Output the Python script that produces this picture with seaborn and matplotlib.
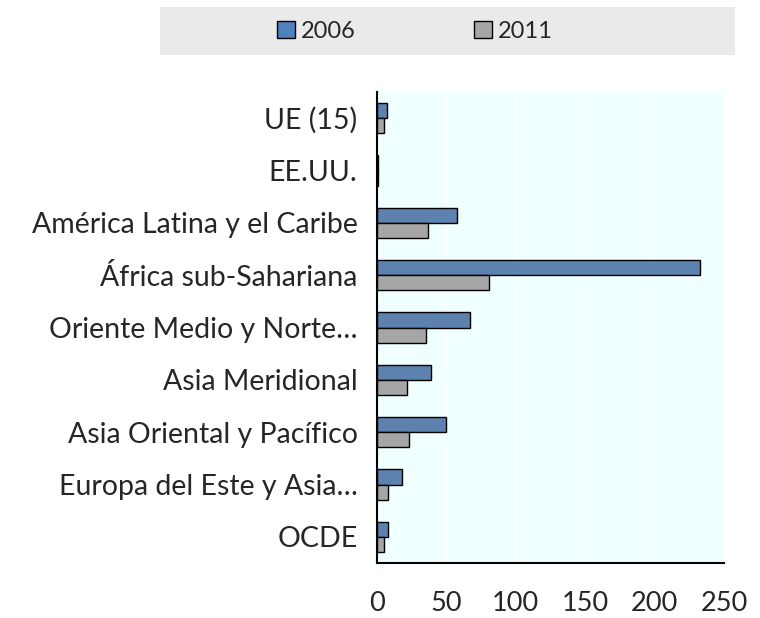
import numpy as np
import pandas as pd
import seaborn as sns
import matplotlib.pyplot as plt
from matplotlib.patches import Rectangle

regions = ['UE (15)', 'EE.UU.', 'América Latina y el Caribe', 'África sub-Sahariana',
           'Oriente Medio y Norte…', 'Asia Meridional', 'Asia Oriental y Pacífico',
           'Europa del Este y Asia…', 'OCDE']
vals_2006 = [7, 1, 58, 233, 67, 39, 50, 18, 8]
vals_2011 = [5, 1, 37, 81, 35, 22, 23, 8, 5]
years = ['2006', '2011']
colors = ['#4F81BD', '#A6A6A6']

df = pd.DataFrame({
    'region': regions * 2,
    'year': [years[0]] * len(regions) + [years[1]] * len(regions),
    'value': vals_2006 + vals_2011,
})

sns.set_style('white')
plt.rcParams['font.family'] = ['Lato', 'DejaVu Sans']

fig = plt.figure(figsize=(7.6, 6.18), dpi=100)
ax = fig.add_axes([0.496, 0.089, 0.4565, 0.762])
ax.set_facecolor('#F0FFFF')

sns.barplot(data=df, y='region', x='value', hue='year', orient='h',
            palette=colors, edgecolor='black', linewidth=1, width=0.58,
            order=regions, hue_order=years, ax=ax, legend=False)

ax.set_xlim(0, 250)
ax.set_ylim(len(regions) - 0.5, -0.5)
ax.set_xticks([0, 50, 100, 150, 200, 250])
ax.set_yticks(np.arange(len(regions)))
ax.set_yticks(np.arange(len(regions)) - 0.5, minor=True)
ax.tick_params(axis='y', which='major', length=0, labelsize=20.5, pad=14)
ax.tick_params(axis='y', which='minor', length=7, width=1.5, direction='in', color='black')
ax.tick_params(axis='x', which='major', length=7, width=1.5, direction='in',
               labelsize=19.5, pad=20, color='black')
ax.set_xlabel('')
ax.set_ylabel('')
ax.grid(axis='x', color='white', linewidth=0.8)
ax.set_axisbelow(True)
for s in ['top', 'right']:
    ax.spines[s].set_visible(False)
for s in ['left', 'bottom']:
    ax.spines[s].set_color('black')
    ax.spines[s].set_linewidth(1.5)

# legend band on top
fig.patches.append(Rectangle((160 / 760, 1 - 55 / 618), 575 / 760, 48 / 618,
                             transform=fig.transFigure, facecolor='#EAEAEA',
                             edgecolor='none', zorder=0))
handles = [Rectangle((0, 0), 1, 1, facecolor=c, edgecolor='black', linewidth=1) for c in colors]
fig.legend(handles, years, loc='center', bbox_to_anchor=(415 / 760, 1 - 31 / 618),
           ncol=2, frameon=False, fontsize=17, handlelength=0.75, handleheight=0.75,
           handletextpad=0.25, columnspacing=5.0)

fig.savefig('out.png', dpi=100)
